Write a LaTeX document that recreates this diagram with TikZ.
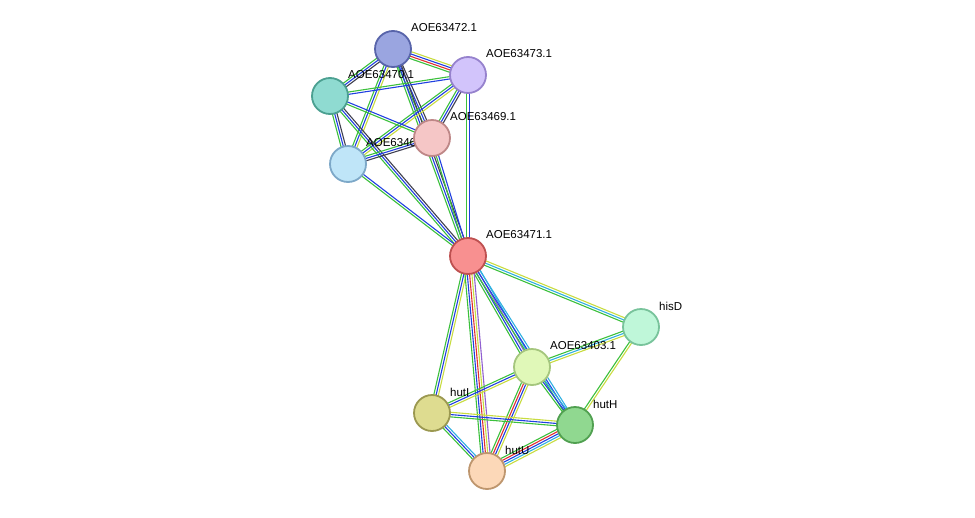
\documentclass[tikz,border=0pt]{standalone}
\usepackage{fontspec}
\setsansfont{Liberation Sans}
\usetikzlibrary{calc}
\definecolor{eg}{HTML}{3CC03C}
\definecolor{eb}{HTML}{2040E0}
\definecolor{ey}{HTML}{C8DC40}
\definecolor{er}{HTML}{E03030}
\definecolor{ep}{HTML}{9060D0}
\definecolor{ek}{HTML}{404050}
\definecolor{ec}{HTML}{30B0E0}
\newcommand\ed[4]{%
  \foreach \c [count=\i] in {#4} {%
    \pgfmathsetmacro\eoff{(\i-(#3+1)/2)*2.3}%
    \draw[\c, line width=1.1pt] ($(#1)!\eoff pt!90:(#2)$) -- ($(#2)!\eoff pt!-90:(#1)$);
  }}
\begin{document}
\begin{tikzpicture}[x=1pt,y=-1pt,
  prot/.style={circle,minimum size=36pt,inner sep=0pt,line width=1.8pt},
  lab/.style={font=\sffamily\fontsize{11.5}{13}\selectfont,anchor=west,inner sep=0pt}]
\useasboundingbox (0,0) rectangle (975,517);
\coordinate (n472) at (393,49);
\coordinate (n473) at (468,75);
\coordinate (n470) at (330,96);
\coordinate (n469) at (432,138);
\coordinate (n634) at (348,164);
\coordinate (n471) at (468,256);
\coordinate (nhisD) at (641,327);
\coordinate (n403) at (532,367);
\coordinate (nhutI) at (432,413);
\coordinate (nhutH) at (575,425);
\coordinate (nhutU) at (487,471);
\ed{n472}{n473}{4}{eg,er,eb,ey}
\ed{n472}{n470}{3}{eg,eb,ek}
\ed{n472}{n469}{3}{eg,eb,ek}
\ed{n472}{n634}{3}{eg,eb,ey}
\ed{n472}{n471}{3}{eg,eb,ek}
\ed{n473}{n470}{2}{eg,eb}
\ed{n473}{n469}{3}{eg,eb,ek}
\ed{n473}{n634}{3}{eg,eb,ey}
\ed{n473}{n471}{2}{eg,eb}
\ed{n470}{n469}{2}{eg,eb}
\ed{n470}{n634}{3}{eg,eb,ek}
\ed{n470}{n471}{3}{eg,eb,ek}
\ed{n469}{n634}{3}{eg,eb,ek}
\ed{n469}{n471}{2}{eg,eb}
\ed{n634}{n471}{2}{eg,eb}
\ed{n471}{nhisD}{3}{eg,ec,ey}
\ed{n471}{n403}{4}{eg,eb,ep,ec}
\ed{n471}{nhutI}{3}{eg,eb,ey}
\ed{n471}{nhutH}{3}{eg,eb,ec}
\ed{n471}{nhutU}{5}{eg,eb,er,ey,ep}
\ed{nhisD}{n403}{3}{eg,ec,ey}
\ed{nhisD}{nhutH}{2}{eg,ey}
\ed{n403}{nhutI}{3}{eg,eb,ey}
\ed{n403}{nhutH}{3}{eg,eb,ec}
\ed{n403}{nhutU}{4}{eg,er,eb,ey}
\ed{nhutI}{nhutH}{3}{eg,eb,ey}
\ed{nhutI}{nhutU}{3}{eg,eb,ec}
\ed{nhutH}{nhutU}{5}{eg,er,eb,ec,ey}
\node[lab] (l472) at (411,28) {AOE63472.1};
\node[lab] (l473) at (486,54) {AOE63473.1};
\node[lab] (l470) at (348,75) {AOE63470.1};
\node[lab] (l469) at (450,117) {AOE63469.1};
\node[lab] (l634) at (366,143) {AOE63468.1};
\node[lab] (l471) at (486,235) {AOE63471.1};
\node[lab] (lhisD) at (659,306) {hisD};
\node[lab] (l403) at (550,346) {AOE63403.1};
\node[lab] (lhutI) at (450,392) {hutI};
\node[lab] (lhutH) at (593,404) {hutH};
\node[lab] (lhutU) at (505,450) {hutU};
\node[prot,fill={rgb,255:red,154;green,165;blue,224},draw={rgb,255:red,88;green,100;blue,170}] (p472) at (n472) {};
\node[prot,fill={rgb,255:red,210;green,196;blue,251},draw={rgb,255:red,150;green,130;blue,205}] (p473) at (n473) {};
\node[prot,fill={rgb,255:red,143;green,219;blue,209},draw={rgb,255:red,75;green,160;blue,145}] (p470) at (n470) {};
\node[prot,fill={rgb,255:red,191;green,229;blue,248},draw={rgb,255:red,125;green,168;blue,200}] (p634) at (n634) {};
\node[prot,fill={rgb,255:red,245;green,198;blue,198},draw={rgb,255:red,190;green,135;blue,135}] (p469) at (n469) {};
\node[prot,fill={rgb,255:red,248;green,144;blue,144},draw={rgb,255:red,190;green,80;blue,80}] (p471) at (n471) {};
\node[prot,fill={rgb,255:red,191;green,247;blue,217},draw={rgb,255:red,120;green,195;blue,155}] (phisD) at (nhisD) {};
\node[prot,fill={rgb,255:red,224;green,248;blue,184},draw={rgb,255:red,165;green,198;blue,125}] (p403) at (n403) {};
\node[prot,fill={rgb,255:red,222;green,220;blue,144},draw={rgb,255:red,155;green,152;blue,80}] (phutI) at (nhutI) {};
\node[prot,fill={rgb,255:red,144;green,216;blue,144},draw={rgb,255:red,80;green,160;blue,80}] (phutH) at (nhutH) {};
\node[prot,fill={rgb,255:red,252;green,216;blue,184},draw={rgb,255:red,190;green,150;blue,110}] (phutU) at (nhutU) {};
\end{tikzpicture}
\end{document}
